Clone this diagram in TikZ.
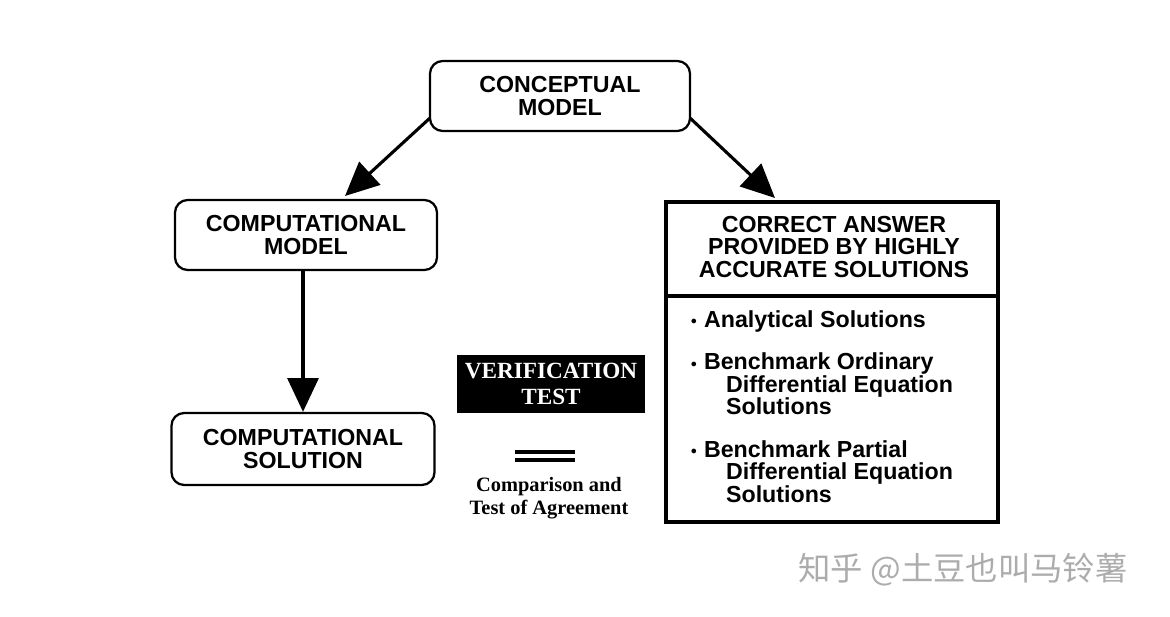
\documentclass[tikz,border=0pt]{standalone}
\usepackage{fontspec}
\setmainfont{Liberation Sans}
\newfontfamily\serif{Liberation Serif}
\newfontfamily\cjk{Noto Sans CJK SC}
\usetikzlibrary{arrows.meta}
\tikzset{
  model/.style={draw, line width=1.6pt, rounded corners=9pt, align=center,
    font=\bfseries\fontsize{16.5}{16}\selectfont, inner sep=0pt},
  flow/.style={line width=2.2pt, -{Triangle[length=24pt,width=22pt]}}
}
\newcommand{\dotitem}{\raisebox{2pt}{\scalebox{0.5}{$\bullet$}}\hspace{5pt}}
\begin{document}
\begin{tikzpicture}[x=0.025cm,y=-0.025cm]
  \useasboundingbox (0,0) rectangle (1170,617);
  \node[model, minimum width=260*0.025cm, minimum height=70*0.025cm] (concept) at (560,96) {CONCEPTUAL\\MODEL};
  \node[model, minimum width=262*0.025cm, minimum height=70*0.025cm] (compmodel) at (306,235) {COMPUTATIONAL\\MODEL};
  \node[model, minimum width=263*0.025cm, minimum height=72*0.025cm] (compsol) at (303,449) {COMPUTATIONAL\\SOLUTION};
  % right box
  \node[draw, line width=2.2pt, minimum width=332*0.025cm, minimum height=320*0.025cm, inner sep=0pt] (answer) at (832,362) {};
  \draw[line width=2.2pt] (666,296) -- (998,296);
  \node[align=center, font=\bfseries\fontsize{16.5}{16}\selectfont] (head) at (834,247) {CORRECT ANSWER\\PROVIDED BY HIGHLY\\ACCURATE SOLUTIONS};
  \node[anchor=north west, align=left, font=\bfseries\fontsize{16.5}{16}\selectfont] (list) at (686,306)
    {\dotitem Analytical Solutions\\[14pt]
     \dotitem Benchmark Ordinary\\\hspace{25pt}Differential Equation\\\hspace{25pt}Solutions\\[14pt]
     \dotitem Benchmark Partial\\\hspace{25pt}Differential Equation\\\hspace{25pt}Solutions};
  % verification
  \node[fill=black, text=white, minimum width=188*0.025cm, minimum height=58*0.025cm, align=center,
    font=\serif\bfseries\fontsize{16.5}{18}\selectfont] (verif) at (551,384) {VERIFICATION\\TEST};
  \coordinate (eqa) at (515,452); \coordinate (eqb) at (575,452);
  \draw[line width=2.2pt] (eqa) -- (eqb);
  \draw[line width=2.2pt] ([yshift=-8*0.025cm]eqa) -- ([yshift=-8*0.025cm]eqb);
  \node[align=center, font=\serif\bfseries\fontsize{14.5}{16}\selectfont] (compare) at (549,498) {Comparison and\\Test of Agreement};
  % arrows
  \coordinate (la) at (430,118); \coordinate (lb) at (345,196);
  \coordinate (ra) at (690,118); \coordinate (rb) at (775,198);
  \coordinate (da) at (303,270);
  \draw[flow] (la) -- (lb);
  \draw[flow] (ra) -- (rb);
  \draw[flow] (da) -- (compsol.north);
  \node[text=gray!65, font=\cjk\fontsize{23}{24}\selectfont] (mark) at (963,570) {知乎 @土豆也叫马铃薯};
\end{tikzpicture}
\end{document}
